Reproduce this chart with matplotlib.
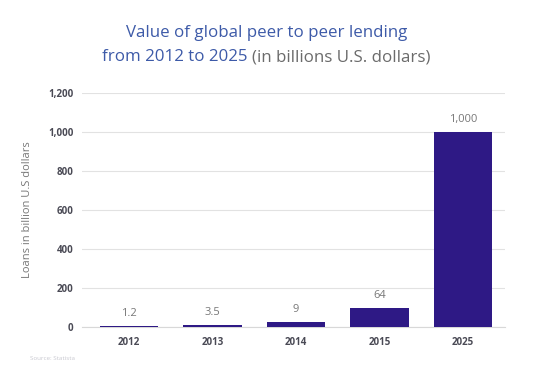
import matplotlib
matplotlib.use("Agg")
import matplotlib.pyplot as plt
import numpy as np

# data
years = ["2012", "2013", "2014", "2015", "2025"]
bar_heights = [5, 12, 26, 100, 1000]      # drawn bar heights (as pictured)
value_labels = ["1.2", "3.5", "9", "64", "1,000"]
y_ticks = [0, 200, 400, 600, 800, 1000, 1200]
y_tick_labels = ["0", "200", "400", "600", "800", "1,000", "1,200"]

BAR = "#2e1985"
BLUE = "#3d5aa8"
GREY = "#6b6b6b"
TICK = "#4a4a55"

plt.rcParams["font.family"] = ["Open Sans", "DejaVu Sans"]

fig = plt.figure(figsize=(5.33, 3.65), dpi=100)
ax = fig.add_axes([0.154, 0.104, 0.793, 0.641])

x = np.arange(len(years))
bars = ax.bar(x, bar_heights, width=0.7, color=BAR, zorder=3)

for xi, h, lab in zip(x, bar_heights, value_labels):
    ax.annotate(lab, (xi, h), xytext=(0, 9), textcoords="offset points",
                ha="center", va="center", fontsize=8, color="#777777")

ax.set_xlim(-0.56, 4.5)
ax.set_ylim(0, 1200)
ax.set_xticks(x)
ax.set_xticklabels(years, fontsize=7, fontweight="bold", color=TICK)
ax.set_yticks(y_ticks)
ax.set_yticklabels(y_tick_labels, fontsize=7, fontweight="bold", color=TICK)
ax.tick_params(axis="both", length=0)
ax.tick_params(axis="x", pad=7)
ax.tick_params(axis="y", pad=6)

ax.grid(axis="y", color="#e2e2e2", linewidth=0.8, zorder=0)
for s in ["top", "right", "left"]:
    ax.spines[s].set_visible(False)
ax.spines["bottom"].set_color("#d8d8d8")
ax.spines["bottom"].set_linewidth(0.8)

ax.set_ylabel("Loans in billion U.S dollars", fontsize=8, color="#777777")
ax.yaxis.set_label_coords(-0.116, 0.5)

# title, second line in two colours
fig.text(0.5, 1 - 33 / 365, "Value of global peer to peer lending",
         ha="center", va="center", fontsize=12.2, color=BLUE)
fig.canvas.draw()
r = fig.canvas.get_renderer()
t1 = fig.text(0, 1 - 57 / 365, "from 2012 to 2025 ", ha="left", va="center",
              fontsize=12.2, color=BLUE)
t2 = fig.text(0, 1 - 57 / 365, "(in billions U.S. dollars)", ha="left",
              va="center", fontsize=12.2, color=GREY)
w1 = t1.get_window_extent(r).width
w2 = t2.get_window_extent(r).width
W = fig.bbox.width
start = (W - w1 - w2) / 2
t1.set_x(start / W)
t2.set_x((start + w1) / W)

fig.text(30 / 533, 1 - 358 / 365, "Source: Statista", fontsize=4.5,
         color="#c8c8d0", ha="left", va="center")

fig.savefig("out.png", dpi=100)
